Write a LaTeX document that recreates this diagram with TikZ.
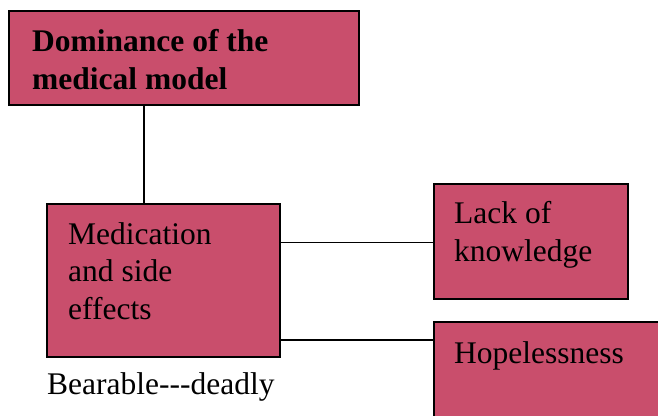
\documentclass[tikz,border=0pt]{standalone}
\usepackage{fontspec}
\setmainfont{Liberation Serif}
\begin{document}
\begin{tikzpicture}[x=1pt,y=1pt,
  box/.style={draw=black, line width=1.6pt, fill=boxred, rectangle, inner sep=0pt, anchor=north west},
  txt/.style={inner sep=0pt, anchor=base west, align=left, font=\fontsize{31.5}{37.5}\selectfont},
  link/.style={draw=black, line width=1.8pt}]
\definecolor{boxred}{RGB}{201,78,108}
\useasboundingbox (0,0) rectangle (658,-415);
\clip (0,0) rectangle (658,-415);
% boxes
\node[box, minimum width=350, minimum height=94] (dom) at (8,-10) {};
\node[box, minimum width=233, minimum height=153] (med) at (46,-203) {};
\node[box, minimum width=194, minimum height=115] (lack) at (433,-183) {};
\node[box, minimum width=260, minimum height=130] (hope) at (433,-321) {};
% labels (anchored on the baseline of their last line)
\node[txt, font=\fontsize{31.5}{37.5}\selectfont\bfseries] (domt) at (32,-89) {Dominance of the\\medical model};
\node[txt] (medt) at (68,-319) {Medication\\and side\\effects};
\node[txt] (lackt) at (454,-261) {Lack of\\knowledge};
\node[txt] (hopet) at (454,-363) {Hopelessness};
\node[txt] (scale) at (47,-394) {Bearable-{}-{}-deadly};
% connectors
\coordinate (stem) at (144,0);
\coordinate (high) at (0,-242.4);
\coordinate (low) at (0,-340);
\draw[link] (stem |- dom.south) -- (stem |- med.north);
\draw[link] (med.east |- high) -- (lack.west |- high);
\draw[link] (med.east |- low) -- (hope.west |- low);
\end{tikzpicture}
\end{document}
